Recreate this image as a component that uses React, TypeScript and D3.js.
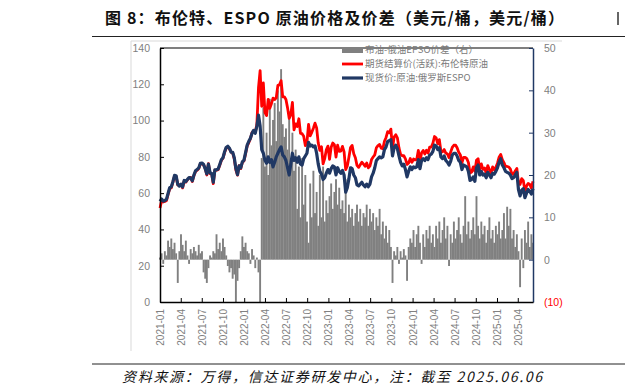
import * as d3 from "d3";
import { useEffect, useRef } from "react";

// weekly observations, every Friday from 2021-01-01 to 2025-06-06
const startDate = "2021-01-01";
const endDate = "2025-06-06";

// 期货结算价(活跃):布伦特原油
const brent = [
    51.8, 55.9, 55.1, 55.4, 55.9, 59.3, 62.4, 62.9, 66.1, 69.4,
    69.2, 64.5, 64.6, 64.9, 62.9, 66.8, 66.1, 67.3, 68.3, 68.7,
    66.4, 69.6, 71.9, 72.7, 73.5, 76.2, 76.2, 75.6, 73.6, 70.0,
    76.3, 70.7, 70.6, 65.2, 72.7, 72.6, 72.9, 75.3, 78.1, 79.3,
    82.4, 84.9, 85.5, 84.4, 82.7, 82.2, 78.9, 72.7, 69.9, 75.2,
    73.5, 76.9, 77.8,
    81.8, 86.1, 87.9, 90.0, 93.3, 94.4, 93.5, 97.9, 118.1, 127.5,
    107.9, 120.7, 104.4, 102.8, 111.7, 106.7, 109.3, 112.4, 111.6, 112.6,
    119.4, 119.7, 122.0, 113.1, 113.1, 111.6, 107.0, 101.2, 103.2, 110.0,
    94.9, 98.2, 96.7, 101.0, 93.0, 92.8, 91.4, 86.2, 88.0, 97.9,
    91.6, 93.5, 95.8, 98.6, 96.0, 87.6, 83.6, 85.6, 76.1, 79.0,
    83.9, 85.9,
    78.6, 85.3, 87.6, 86.7, 79.9, 86.4, 83.0, 83.2, 85.8, 82.8,
    73.0, 75.0, 79.8, 85.1, 86.3, 81.7, 79.5, 75.3, 74.2, 75.6,
    77.0, 76.1, 74.8, 76.6, 73.9, 74.9, 78.5, 79.9, 81.1, 85.0,
    86.2, 86.8, 84.8, 84.5, 88.6, 90.7, 93.9, 93.3, 95.3, 84.6,
    90.9, 92.2, 90.5, 84.9, 81.4, 80.6, 80.6, 78.9, 75.8, 76.6,
    79.1, 77.0,
    78.8, 78.3, 78.6, 83.6, 77.3, 82.2, 83.5, 81.6, 83.6, 82.1,
    85.3, 85.4, 87.5, 91.2, 90.5, 87.3, 89.5, 83.0, 82.8, 84.0,
    82.1, 81.6, 79.6, 82.6, 85.2, 86.4, 86.5, 85.0, 82.6, 81.1,
    76.8, 79.7, 79.7, 79.0, 76.9, 71.1, 71.6, 74.5, 72.0, 78.1,
    79.0, 73.1, 76.1, 73.1, 73.9, 71.0, 75.2, 72.9, 71.1, 74.5,
    72.9, 74.2,
    76.5, 79.8, 81.3, 78.5, 76.8, 74.7, 74.7, 74.4, 73.2, 70.4,
    70.6, 72.2, 73.6, 65.6, 64.8, 68.0, 66.9, 61.3, 63.9, 65.4,
    64.8, 62.8, 66.5,
];

// 现货价:原油:俄罗斯ESPO
const espo = [
    55.5, 56.8, 55.6, 55.9, 56.6, 59.8, 63.0, 63.5, 66.3, 69.8,
    69.6, 64.8, 63.9, 64.9, 63.4, 67.0, 66.4, 67.6, 68.6, 68.3,
    66.8, 70.0, 72.3, 73.0, 73.9, 76.4, 76.6, 75.8, 73.4, 70.6,
    76.0, 71.2, 70.8, 66.0, 72.9, 72.9, 73.3, 75.8, 78.4, 79.5,
    82.8, 85.2, 85.9, 84.8, 82.6, 82.5, 79.5, 73.6, 70.2, 75.0,
    73.9, 77.2, 78.2,
    82.3, 86.5, 88.6, 90.3, 93.0, 94.6, 93.0, 97.0, 103.0, 97.0,
    84.0, 82.0, 78.0, 76.5, 80.0, 77.0, 78.5, 74.5, 77.0, 80.0,
    82.0, 84.0, 85.5, 81.0, 80.0, 78.0, 74.0, 70.0, 76.0, 82.0,
    78.0, 79.5, 77.0, 80.0, 76.0, 75.5, 79.0, 80.5, 82.0, 88.0,
    86.0, 86.5, 85.5, 86.0, 82.0, 76.0, 72.0, 70.5, 67.5, 68.5,
    71.0, 73.0,
    71.0, 73.5, 75.0, 74.5, 70.0, 74.0, 72.0, 71.0, 72.5, 70.0,
    60.5, 63.0, 68.0, 74.0, 73.5, 70.0, 68.5, 64.5, 64.0, 65.0,
    66.0, 64.5, 63.5, 65.0, 63.5, 65.0, 69.0, 71.0, 74.0, 78.0,
    79.0, 80.0, 79.5, 80.0, 84.0, 85.5, 88.5, 89.0, 89.5, 80.5,
    85.0, 86.5, 84.5, 80.5, 77.0, 75.0, 76.0, 73.0, 69.0, 72.0,
    74.5, 73.0,
    74.5, 74.0, 74.5, 78.5, 73.5, 78.0, 79.0, 78.0, 79.5, 78.5,
    81.0, 81.5, 83.0, 86.5, 86.0, 84.0, 85.0, 80.0, 79.0, 80.5,
    78.0, 77.0, 75.5, 77.5, 81.0, 82.0, 82.0, 80.5, 78.0, 77.0,
    73.0, 75.5, 75.0, 74.5, 72.0, 67.0, 67.5, 69.0, 66.5, 74.0,
    75.5, 70.0, 72.0, 70.0, 70.5, 68.5, 71.5, 70.0, 68.5, 71.0,
    70.5, 72.0,
    74.0, 77.0, 79.0, 75.5, 74.0, 72.0, 71.5, 71.0, 70.0, 68.0,
    68.5, 70.0, 71.5, 62.0, 58.5, 61.5, 62.5, 57.5, 60.0, 62.0,
    61.0, 59.5, 62.5,
];

// 布油-俄油EPSO价差（右）
const spread = [
    0.5, 1.5, -1.0, 2.0, 1.0, 4.5, 3.0, 5.0, 2.5, 4.0,
    1.5, -5.5, 2.0, 6.0, 3.5, 2.0, 4.5, 1.0, -1.0, 2.5,
    1.5, 3.0, 2.0, 1.0, 3.5, 1.5, 2.0, -3.0, -4.5, -5.5,
    -2.0, 1.0, 0.5, 2.0, 1.5, 6.0, 2.5, 4.0, 2.0, 5.0,
    3.0, 1.0, -1.5, -3.0, -2.0, -4.5, -3.5, -10.0, -5.0, -2.0,
    2.0, 5.5, 3.0,
    4.0, 2.0, 1.5, -1.0, 2.5, 1.0, -2.0, 0.5, -3.0, -10.0,
    24, 36, 22, 30, 20, 38, 27, 33, 37, 28,
    40, 35, 45, 32, 29, 31, 26, 35, 23, 30, 21,
    26, 12, 22, 10, 24, 13, 20, 9, 4, 18,
    10, 21, 11, 16, 8, 20, 10, 22, 9, 14, 11,
    15, 18, 12, 16, 19, 13, 17, 12, 14, 11,
    19, 9, 13, 10, 12, 8, 11, 13, 9, 12,
    8, 11, 10, 13, 8, 12, 9, 11, 7, 10,
    8, 12, 6, 9, 5, 8, 4, 7, 3, -5.5,
    2, 1, 3, -1, 2, 0.5, 2.5, 1, -5, 3,
    5, 4,
    7, 3, 6, 8, 4, -1, 6, 3, 7, 5,
    8, 4, 6, 3, 8, 5, 9, 4, 7, 10,
    5, 8, -1.5, 6, 4, 9, 5, 7, 10, 6,
    4, 8, 15, 6, 9, 5, 7, 10, 6, 15,
    8, 5, 9, 6, 8, 4, 7, 10, 5, 7,
    4, 8,
    6, 9, 5, 7, 11, 5, 12.5, 8, 12, 5,
    7, 3, 6, 2, -6.5, 5, -2, 7, 4, 9,
    3, 6, 4,
];

const leftTicks = [0, 20, 40, 60, 80, 100, 120, 140];
const rightTicks = [-10, 0, 10, 20, 30, 40, 50];
const legendLabels = ["布油-俄油EPSO价差（右）", "期货结算价(活跃):布伦特原油", "现货价:原油:俄罗斯ESPO"];
const titleText = "图 8：布伦特、ESPO 原油价格及价差（美元/桶，美元/桶）";
const sourceText = "资料来源：万得，信达证券研发中心，注：截至 2025.06.06";

function drawChart(svgEl: SVGSVGElement) {
    const width = 625;
    const height = 391;
    const left = 160, right = 533, top = 48, bottom = 302;
    const navy = "#203864";
    const grey = "#808080";
    const labelFont = "'Liberation Sans', Arial, sans-serif";
    const cjkFont = "'Noto Sans CJK SC', sans-serif";

    const svg = d3.select(svgEl);
    svg.selectAll("*").remove();
    svg.attr("width", width).attr("height", height);

    const parse = d3.timeParse("%Y-%m-%d");
    const t0 = parse(startDate) as Date;
    const t1 = parse(endDate) as Date;
    const dates = brent.map((_, i) => d3.timeDay.offset(t0, 7 * i));

    const x = d3.scaleTime().domain([t0, t1]).range([left, right]);
    const yL = d3.scaleLinear().domain([0, 140]).range([bottom, top]);
    const yR = d3.scaleLinear().domain([-10, 50]).range([bottom, top]);

    // title
    svg.append("text")
        .attr("x", 105).attr("y", 24)
        .attr("font-family", cjkFont).attr("font-weight", "bold")
        .attr("font-size", 16).attr("fill", "#111")
        .attr("textLength", 459).attr("lengthAdjust", "spacing")
        .text(titleText);
    svg.append("line").attr("x1", 618).attr("x2", 618).attr("y1", 12).attr("y2", 25)
        .attr("stroke", "#333").attr("stroke-width", 1.5);
    svg.append("line").attr("x1", 92).attr("x2", 625).attr("y1", 36.5).attr("y2", 36.5)
        .attr("stroke", "#222").attr("stroke-width", 1);

    // outer frame
    svg.append("path").attr("d", "M562,41H131V351")
        .attr("fill", "none").attr("stroke", "#d9d9d9").attr("stroke-width", 1);

    // spread bars
    const bw = 1.9;
    svg.append("g").selectAll("rect")
        .data(spread)
        .enter()
        .append("rect")
        .attr("x", (d, i) => x(dates[i]) - bw / 2)
        .attr("width", bw)
        .attr("y", d => yR(Math.max(0, Math.max(-10, d))))
        .attr("height", d => Math.abs(yR(Math.max(-10, d)) - yR(0)))
        .attr("fill", grey);

    // lines
    const line = d3.line<number>()
        .x((d, i) => x(dates[i]))
        .y(d => yL(d));
    svg.append("path").datum(brent).attr("d", line)
        .attr("fill", "none").attr("stroke", "#ff0000").attr("stroke-width", 2.8)
        .attr("stroke-linejoin", "round");
    svg.append("path").datum(espo).attr("d", line)
        .attr("fill", "none").attr("stroke", navy).attr("stroke-width", 3.2)
        .attr("stroke-linejoin", "round");

    // plot top border
    svg.append("line").attr("x1", left).attr("x2", right).attr("y1", top).attr("y2", top)
        .attr("stroke", "#000").attr("stroke-width", 1.2);

    // left axis
    const gL = svg.append("g").attr("transform", `translate(${left},0)`)
        .call(d3.axisLeft(yL).tickValues(leftTicks).tickSizeInner(-4).tickSizeOuter(0).tickPadding(10));
    gL.select(".domain").attr("stroke", "#000").attr("stroke-width", 1.5);
    gL.selectAll(".tick line").attr("stroke", "#000");
    gL.selectAll("text").attr("font-family", labelFont).attr("font-size", 10.5).attr("fill", grey);

    // right axis
    const gR = svg.append("g").attr("transform", `translate(${right},0)`)
        .call(d3.axisRight(yR).tickValues(rightTicks).tickSizeInner(-4).tickSizeOuter(0).tickPadding(11)
            .tickFormat((d: any) => (d < 0 ? `(${Math.abs(d)})` : `${d}`)));
    gR.select(".domain").attr("stroke", navy).attr("stroke-width", 1.5);
    gR.selectAll(".tick line").attr("stroke", navy);
    gR.selectAll("text").attr("font-family", labelFont).attr("font-size", 10.5)
        .attr("fill", (d: any) => (d < 0 ? "#ff0000" : grey));

    // bottom axis
    const quarters = d3.timeMonth.every(3)!.range(t0, t1);
    const gB = svg.append("g").attr("transform", `translate(0,${bottom})`)
        .call(d3.axisBottom(x).tickValues(quarters).tickSizeInner(-4).tickSizeOuter(0)
            .tickFormat(d3.timeFormat("%Y-%m") as any));
    gB.select(".domain").attr("stroke", "#000").attr("stroke-width", 1.5);
    gB.selectAll(".tick line").attr("stroke", "#000");
    gB.selectAll("text")
        .attr("transform", "rotate(-90)")
        .attr("x", -7).attr("y", 0).attr("dy", "0.35em")
        .attr("text-anchor", "end")
        .attr("font-family", labelFont).attr("font-size", 10).attr("fill", grey);

    // legend
    const lg = svg.append("g").attr("transform", "translate(342,0)");
    const rows = [50, 64, 78];
    lg.append("rect").attr("x", 0).attr("y", rows[0] - 3).attr("width", 21).attr("height", 6).attr("fill", grey);
    lg.append("line").attr("x1", 0).attr("x2", 21).attr("y1", rows[1]).attr("y2", rows[1])
        .attr("stroke", "#ff0000").attr("stroke-width", 2.8);
    lg.append("line").attr("x1", 0).attr("x2", 21).attr("y1", rows[2]).attr("y2", rows[2])
        .attr("stroke", navy).attr("stroke-width", 3.2);
    lg.selectAll("text.lbl")
        .data(legendLabels)
        .enter()
        .append("text")
        .attr("x", 23)
        .attr("y", (d, i) => rows[i])
        .attr("dy", "0.35em")
        .attr("font-family", cjkFont).attr("font-size", 9.5).attr("fill", "#7a7a7a")
        .text(d => d);

    // footer
    svg.append("line").attr("x1", 92).attr("x2", 625).attr("y1", 364).attr("y2", 364)
        .attr("stroke", "#222").attr("stroke-width", 1);
    svg.append("text")
        .attr("x", 122).attr("y", 382)
        .attr("font-family", cjkFont).attr("font-style", "italic")
        .attr("font-size", 14).attr("fill", "#111")
        .attr("textLength", 420).attr("lengthAdjust", "spacing")
        .text(sourceText);
}

export default function App() {
    const svgRef = useRef<SVGSVGElement>(null);
    useEffect(() => {
        if (svgRef.current) drawChart(svgRef.current);
    }, []);

    return (
        <div style={{ position: "absolute", left: 0, top: 0, background: "#fff" }}>
            <svg ref={svgRef} style={{ display: "block" }} />
        </div>
    );
}
